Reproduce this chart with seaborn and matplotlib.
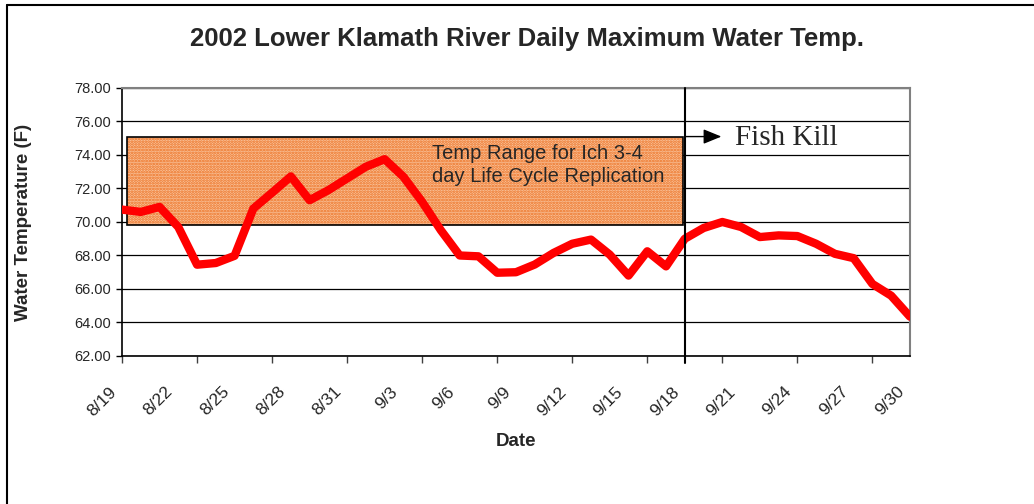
import matplotlib
matplotlib.use('Agg')
import matplotlib.pyplot as plt
import matplotlib.patches as mpatches
import matplotlib.transforms as mtransforms
from matplotlib.lines import Line2D
import pandas as pd
import seaborn as sns

# daily max water temp, 8/19 - 9/30 2002
dates = pd.date_range('2002-08-19', '2002-09-30', freq='D')
temps = [70.74, 70.6, 70.9, 69.7, 67.45, 67.55, 67.98, 70.8, 71.75, 72.72,
         71.3, 71.9, 72.6, 73.3, 73.75, 72.7, 71.2, 69.5, 68.0, 67.95,
         66.97, 67.0, 67.46, 68.15, 68.7, 68.95, 68.05, 66.8, 68.25, 67.35,
         69.0, 69.64, 70.0, 69.7, 69.1, 69.2, 69.16, 68.7, 68.1, 67.84,
         66.3, 65.6, 64.35]
fish_kill_date = pd.Timestamp('2002-09-18')
ich_range = (69.8, 75.1)

df = pd.DataFrame({'date': dates, 'temp': temps})
df['day'] = (df['date'] - df['date'].iloc[0]).dt.days
kill_day = (fish_kill_date - dates[0]).days

sns.set_style('white')
plt.rcParams['font.family'] = ['Liberation Sans', 'DejaVu Sans']
plt.rcParams['hatch.linewidth'] = 1.3

fig = plt.figure(figsize=(10.34, 5.04), dpi=100)
ax = fig.add_axes([0.118, 0.2937, 0.762, 0.5317])

# Ich range box
box_x0, box_x1 = 0.27, kill_day - 0.1
rng = mpatches.Rectangle((box_x0, ich_range[0]), box_x1 - box_x0, ich_range[1] - ich_range[0],
                         facecolor='#F9C29A', edgecolor='#EC6E1E', hatch='......', lw=0, zorder=1)
ax.add_patch(rng)
ax.add_patch(mpatches.Rectangle((box_x0, ich_range[0]), box_x1 - box_x0, ich_range[1] - ich_range[0],
                                facecolor='none', edgecolor='black', lw=1.2, zorder=3))

sns.lineplot(data=df, x='day', y='temp', ax=ax, color='#FF0000', lw=6, zorder=4)

ax.axvline(kill_day, ymin=-0.025, ymax=1, color='black', lw=1.5, zorder=5, clip_on=False)

ax.set_xlim(0, 42)
ax.set_ylim(62, 78)
ax.set_yticks(range(62, 79, 2))
ax.set_yticklabels([f'{v:.2f}' for v in range(62, 79, 2)], fontsize=10.5)
ax.yaxis.grid(True, color='black', lw=0.9)
for gl in ax.get_ygridlines():
    gl.set_zorder(2)

# ticks every 4 days, labels every 3 days
ax.xaxis.remove_overlapping_locs = False
ax.set_xticks(range(0, 43, 4))
ax.set_xticklabels([])
ax.set_xticks(range(0, 43, 3), minor=True)
ax.set_xticklabels([f'{d.month}/{d.day}' for d in dates[::3]], minor=True,
                   rotation=45, ha='right', va='center', rotation_mode='anchor', fontsize=12.5)
ax.tick_params(axis='x', which='major', direction='out', length=5, color='#404040', width=1, bottom=True)
ax.tick_params(axis='x', which='minor', length=0, pad=24, bottom=True)
ax.tick_params(axis='y', direction='out', length=4, color='black', width=1, left=True, pad=4)
shift = mtransforms.ScaledTranslation(-8 / 100, 0, fig.dpi_scale_trans)
for lbl in ax.get_xticklabels(minor=True):
    lbl.set_transform(lbl.get_transform() + shift)

for s in ['left', 'bottom']:
    ax.spines[s].set_color('black')
    ax.spines[s].set_linewidth(1.2)
for s in ['top', 'right']:
    ax.spines[s].set_color('#808080')
    ax.spines[s].set_linewidth(1.5)

ax.set_xlabel('Date', fontsize=13.5, fontweight='bold', labelpad=10)
ax.set_ylabel('Water Temperature (F)', fontsize=13.5, fontweight='bold', labelpad=30)
fig.text(0.51, 0.922, '2002 Lower Klamath River Daily Maximum Water Temp.',
         ha='center', va='center', fontsize=18.5, fontweight='bold')

ax.text(16.5, 73.4, 'Temp Range for Ich 3-4\nday Life Cycle Replication',
        ha='left', va='center', fontsize=14.5, linespacing=1.25, zorder=6)

ax.annotate('', xy=(31.95, ich_range[1]), xytext=(kill_day, ich_range[1]),
            arrowprops=dict(arrowstyle='-|>,head_length=1.1,head_width=0.45',
                            color='black', lw=1, shrinkA=0, shrinkB=0, mutation_scale=10),
            zorder=6)
ax.text(32.7, 74.6, 'Fish Kill', ha='left', va='baseline', fontsize=21,
        family=['Liberation Serif', 'DejaVu Serif'], zorder=6)

# outer chart frame
fig.add_artist(Line2D([7 / 1034, 7 / 1034], [0, 1 - 5 / 504], color='black', lw=1.5))
fig.add_artist(Line2D([7 / 1034, 1], [1 - 5 / 504, 1 - 5 / 504], color='black', lw=1.5))

fig.savefig('out.png', dpi=100)
